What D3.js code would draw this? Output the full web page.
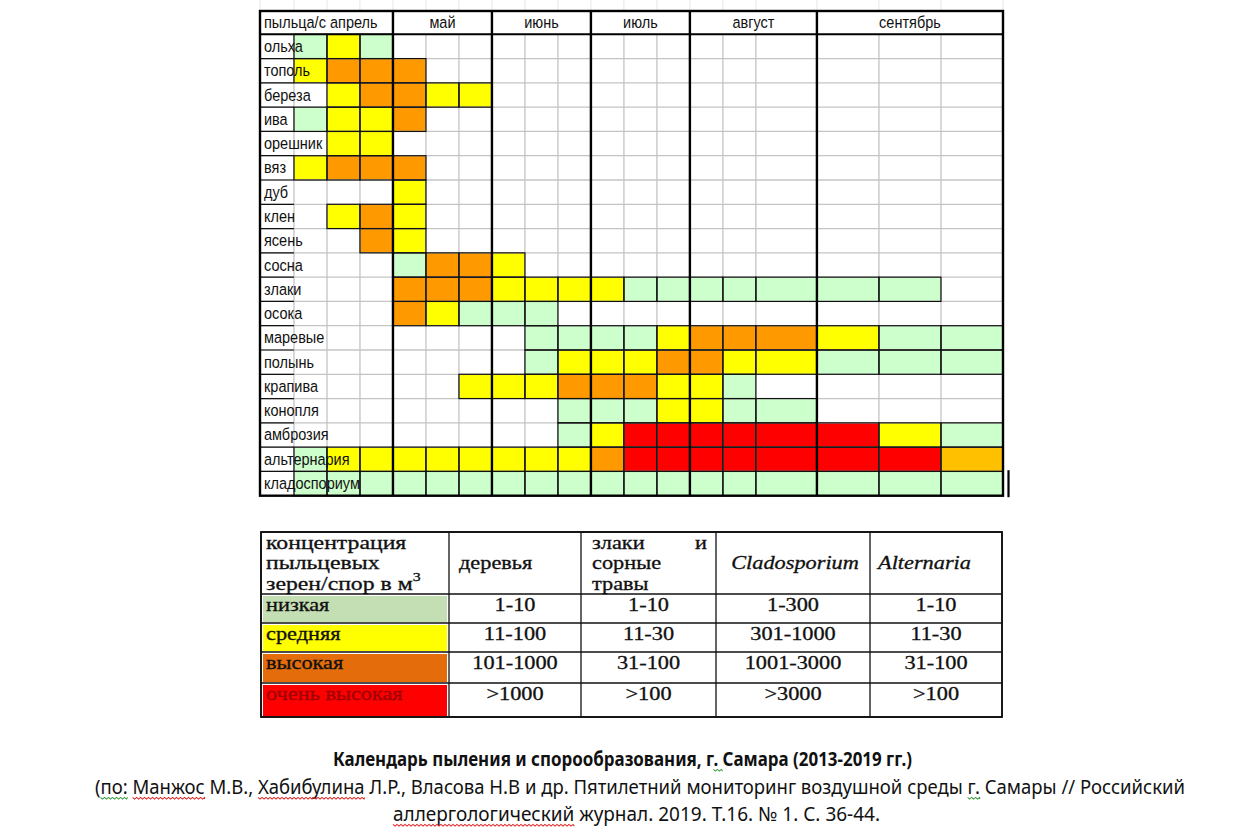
<!DOCTYPE html>
<html><head><meta charset="utf-8">
<script src="https://cdn.jsdelivr.net/npm/d3@7"></script>
<style>body{margin:0;background:#fff} svg{display:block}</style>
</head><body>
<svg id="c" width="1244" height="831"></svg>
<script>
// ---------------- DATA ----------------
const headerLabel = "пыльца/с";
const monthLabels = ["апрель", "май", "июнь", "июль", "август", "сентябрь"];
const rowLabels = ["ольха", "тополь", "береза", "ива", "орешник", "вяз", "дуб", "клен", "ясень",
  "сосна", "злаки", "осока", "маревые", "полынь", "крапива", "конопля", "амброзия",
  "альтернария", "кладоспориум"];
// level per decade column (3 per month, April..September): 0 none, 1 low, 2 medium, 3 high, 4 very high, 5 high/very high
const cellLevels = [
  [1,2,1,0,0,0,0,0,0,0,0,0,0,0,0,0,0,0],
  [2,3,3,3,0,0,0,0,0,0,0,0,0,0,0,0,0,0],
  [0,2,3,3,2,2,0,0,0,0,0,0,0,0,0,0,0,0],
  [1,2,2,3,0,0,0,0,0,0,0,0,0,0,0,0,0,0],
  [0,2,2,0,0,0,0,0,0,0,0,0,0,0,0,0,0,0],
  [2,3,3,3,0,0,0,0,0,0,0,0,0,0,0,0,0,0],
  [0,0,0,2,0,0,0,0,0,0,0,0,0,0,0,0,0,0],
  [0,2,3,2,0,0,0,0,0,0,0,0,0,0,0,0,0,0],
  [0,0,3,2,0,0,0,0,0,0,0,0,0,0,0,0,0,0],
  [0,0,0,1,3,3,2,0,0,0,0,0,0,0,0,0,0,0],
  [0,0,0,3,3,3,2,2,2,2,1,1,1,1,1,1,1,0],
  [0,0,0,3,2,1,1,1,0,0,0,0,0,0,0,0,0,0],
  [0,0,0,0,0,0,0,1,1,1,1,2,3,3,3,2,1,1],
  [0,0,0,0,0,0,0,1,2,2,2,3,3,2,2,1,1,1],
  [0,0,0,0,0,2,2,2,3,3,3,2,2,1,0,0,0,0],
  [0,0,0,0,0,0,0,0,1,1,1,2,2,1,1,0,0,0],
  [0,0,0,0,0,0,0,0,1,2,4,4,4,4,4,4,2,1],
  [1,2,2,2,2,2,2,2,2,3,4,4,4,4,4,4,4,5],
  [1,1,1,1,1,1,1,1,1,1,1,1,1,1,1,1,1,1]
];
const legendHeader = ["концентрация", "пыльцевых", "зерен/спор в м"];
const legendGroups = ["деревья", "злаки и сорные травы", "Cladosporium", "Alternaria"];
const levelNames = ["низкая", "средняя", "высокая", "очень высокая"];
const treeRanges = ["1-10", "11-100", "101-1000", ">1000"];
const grassRanges = ["1-10", "11-30", "31-100", ">100"];
const cladoRanges = ["1-300", "301-1000", "1001-3000", ">3000"];
const alterRanges = ["1-10", "11-30", "31-100", ">100"];
const captionTitle = "Календарь пыления и спорообразования,  г. Самара (2013-2019 гг.)";
const captionSource = [
  "(по: Манжос М.В., Хабибулина Л.Р., Власова Н.В и др. Пятилетний мониторинг воздушной среды г. Самары // Российский",
  "аллергологический журнал. 2019. Т.16. № 1. С. 36-44."
];

// ---------------- LAYOUT ----------------
const svg = d3.select("#c");
const levelColor = {1: "#ccffcc", 2: "#ffff00", 3: "#ff9900", 4: "#ff0000", 5: "#ffc000"};
const colUnits = [1.03].concat(d3.range(14).map(() => 1), [1.85, 1.88, 1.88, 1.88]);
const edgesU = [0]; colUnits.forEach(u => edgesU.push(edgesU[edgesU.length - 1] + u));
const x = d3.scaleLinear().domain([0, edgesU[edgesU.length - 1]]).range([260, 1003]);
const E = edgesU.map(x);
const gTop = 11, hBot = 34.3, gBot = 495.7;
const y = d3.scaleBand().domain(rowLabels).range([hBot, gBot]);
const bw = y.bandwidth();
const sansFont = "'Liberation Sans', Arial, sans-serif";

// faint sheet gridlines above grid
svg.append("g").selectAll("line").data(E).join("line")
  .attr("x1", d => d).attr("x2", d => d).attr("y1", 0).attr("y2", gTop)
  .attr("stroke", "#e6e6e6").attr("stroke-width", 1);

// cells
const cells = [];
cellLevels.forEach((row, r) => row.forEach((lv, j) => {
  if (lv > 0) cells.push({r, j, lv});
}));
svg.append("g").selectAll("rect").data(cells).join("rect")
  .attr("x", d => E[d.j + 1]).attr("width", d => E[d.j + 2] - E[d.j + 1])
  .attr("y", d => y(rowLabels[d.r])).attr("height", bw)
  .attr("fill", d => levelColor[d.lv]);

// grey gridlines
const gridG = svg.append("g").attr("stroke", "#c4c4c4").attr("stroke-width", 1.3);
rowLabels.forEach((lab, i) => {
  if (i > 0) gridG.append("line").attr("x1", E[0]).attr("x2", E[E.length - 1])
    .attr("y1", y(lab)).attr("y2", y(lab));
});
E.forEach(e => gridG.append("line").attr("x1", e).attr("x2", e).attr("y1", hBot).attr("y2", gBot));

// black borders around coloured cells
svg.append("g").selectAll("rect").data(cells).join("rect")
  .attr("x", d => E[d.j + 1]).attr("width", d => E[d.j + 2] - E[d.j + 1])
  .attr("y", d => y(rowLabels[d.r])).attr("height", bw)
  .attr("fill", "none").attr("stroke", "#111").attr("stroke-width", 1.2);

// black lines in label column
svg.append("g").selectAll("line").data(rowLabels.slice(1)).join("line")
  .attr("x1", E[0]).attr("x2", E[1]).attr("y1", d => y(d)).attr("y2", d => y(d))
  .attr("stroke", "#111").attr("stroke-width", 1.2);

// thick lines: month boundaries and frame
const thick = svg.append("g").attr("stroke", "#000").attr("stroke-width", 2.4).attr("fill", "none");
monthLabels.forEach((m, i) => {
  if (i > 0) {
    const xe = E[1 + 3 * i];
    thick.append("line").attr("x1", xe).attr("x2", xe).attr("y1", gTop).attr("y2", gBot);
  }
});
thick.append("rect").attr("x", E[0]).attr("y", gTop).attr("width", E[E.length - 1] - E[0]).attr("height", gBot - gTop);
thick.append("line").attr("x1", E[0]).attr("x2", E[E.length - 1]).attr("y1", hBot).attr("y2", hBot).attr("stroke-width", 2);
// stray cursor mark at the right of the last rows
thick.append("line").attr("x1", E[E.length - 1] + 5.5).attr("x2", E[E.length - 1] + 5.5)
  .attr("y1", y(rowLabels[rowLabels.length - 2]) + bw * 0.95).attr("y2", gBot + 1.5).attr("stroke-width", 2.2);

// text helper for the sheet (slightly tall glyphs)
function stext(g, xp, yp, str, anchor) {
  return g.append("text")
    .attr("transform", `translate(${xp},${yp}) scale(1,1.18)`)
    .attr("text-anchor", anchor || "start")
    .attr("font-family", sansFont).attr("font-size", 14.5).attr("fill", "#111")
    .text(str);
}
const hg = svg.append("g");
stext(hg, E[0] + 4, hBot - 6.5, headerLabel);
monthLabels.forEach((m, i) => {
  if (i === 0) stext(hg, E[2] + 3, hBot - 6.5, m);
  else stext(hg, (E[1 + 3 * i] + E[4 + 3 * i]) / 2, hBot - 6.5, m, "middle");
});
const rg = svg.append("g");
rowLabels.forEach(lab => stext(rg, E[0] + 4, y(lab) + bw / 2 + 5.5, lab));

// ---------------- LEGEND TABLE ----------------
const LX = [261, 449, 581, 716, 870, 1002];
const LY = [532, 594, 623, 652, 683, 717];
const serif = "'Liberation Serif', 'Times New Roman', serif";
const lg = svg.append("g");
const legendFill = ["#c4dfb4", "#ffff00", "#e46c0a", "#ff0000"];
const legendText = ["#111", "#111", "#111", "#a00000"];
levelNames.forEach((n, i) => {
  lg.append("rect").attr("x", LX[0] + 2).attr("y", LY[i + 1] + 2)
    .attr("width", LX[1] - LX[0] - 4).attr("height", LY[i + 2] - LY[i + 1] - 3)
    .attr("fill", legendFill[i]);
});
const lb = lg.append("g").attr("stroke", "#111").attr("stroke-width", 1.3).attr("fill", "none");
LY.forEach(v => lb.append("line").attr("x1", LX[0]).attr("x2", LX[5]).attr("y1", v).attr("y2", v));
LX.forEach(v => lb.append("line").attr("x1", v).attr("x2", v).attr("y1", LY[0]).attr("y2", LY[5]));
lb.append("rect").attr("x", LX[0]).attr("y", LY[0]).attr("width", LX[5] - LX[0]).attr("height", LY[5] - LY[0]).attr("stroke-width", 1.8);

function ltext(xp, yp, str, anchor, opts = {}) {
  return lg.append("text")
    .attr("transform", `translate(${xp},${yp}) scale(${opts.sx || 1.24},1)`)
    .attr("text-anchor", anchor || "start")
    .attr("font-family", serif).attr("font-size", 18)
    .attr("fill", opts.fill || "#111")
    .attr("stroke", opts.fill || "#111").attr("stroke-width", 0.3)
    .attr("font-style", opts.italic ? "italic" : "normal")
    .text(str);
}
ltext(LX[0] + 5, 549, legendHeader[0], "start", {sx: 1.32});
ltext(LX[0] + 5, 569, legendHeader[1], "start", {sx: 1.32});
const lastH = ltext(LX[0] + 5, 590, legendHeader[2], "start", {sx: 1.32});
lastH.append("tspan").attr("dy", -9).attr("font-size", 12).text("3");
ltext(LX[1] + 10, 569, legendGroups[0]);
const grassWords = legendGroups[1].split(" ");
ltext(LX[2] + 11, 549, grassWords[0]);
ltext(LX[3] - 9, 549, grassWords[1], "end");
ltext(LX[2] + 11, 569, grassWords[2]);
ltext(LX[2] + 11, 590, grassWords[3]);
ltext((LX[3] + LX[4]) / 2 + 2, 569, legendGroups[2], "middle", {italic: true});
ltext(LX[4] + 8, 569, legendGroups[3], "start", {italic: true});
const rangeCols = [treeRanges, grassRanges, cladoRanges, alterRanges];
levelNames.forEach((n, i) => {
  const base = LY[i + 1] + 17;
  ltext(LX[0] + 5, base, n, "start", {fill: legendText[i]});
  rangeCols.forEach((col, c) => ltext((LX[c + 1] + LX[c + 2]) / 2, base, col[i], "middle"));
});

// ---------------- CAPTION ----------------
const capFont = "'Noto Sans', 'Open Sans', sans-serif";
function ctext(xp, yp, len, str, bold) {
  const g = svg.append("g").attr("transform", `translate(${xp},${yp}) scale(1,1.12)`);
  const t = g.append("text")
    .attr("textLength", len).attr("lengthAdjust", "spacingAndGlyphs")
    .attr("font-family", capFont).attr("font-weight", bold ? "bold" : "normal")
    .attr("font-size", 17.5).attr("fill", "#111").text(str);
  return {g, t, str};
}
// wavy proofing underline beneath a word of a caption line
function wavy(c, word, from, color) {
  try {
    const i0 = c.str.indexOf(word, from || 0);
    if (i0 < 0) return;
    const el = c.t.node();
    const a = el.getStartPositionOfChar(i0).x;
    const b = el.getEndPositionOfChar(i0 + word.length - 1).x;
    let d = `M${a},3`;
    for (let p = a, k = 0; p < b; p += 2, k++) d += `L${Math.min(p + 2, b)},${k % 2 ? 3 : 4.6}`;
    c.g.append("path").attr("d", d).attr("fill", "none").attr("stroke", color).attr("stroke-width", 0.9);
  } catch (e) {}
}
const c1 = ctext(333, 766, 579, captionTitle, true);
const c2 = ctext(95, 794, 1090, captionSource[0]);
const c3 = ctext(393, 821, 487, captionSource[1]);
wavy(c1, "г.", 0, "#3a9a3a");
wavy(c2, "по:", 0, "#3a9a3a");
wavy(c2, "Манжос", 0, "#e02020");
wavy(c2, "Хабибулина", 0, "#e02020");
wavy(c2, "г.", 80, "#3a9a3a");
wavy(c3, "аллергологический", 0, "#e02020");
</script>
</body></html>
